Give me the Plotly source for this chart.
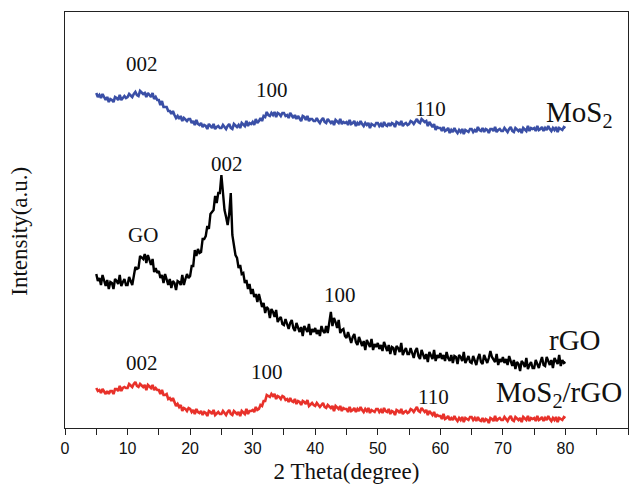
import numpy as np
import plotly.graph_objects as go

# 2-theta sampling (degrees), 0.25 degree steps from 5 to 80
two_theta = np.arange(5.0, 80.001, 0.25)

# Diffraction intensities (a.u., curves already vertically offset); one row per 5 degrees
mos2 = [
    335, 331, 333, 330, 334, 330, 328, 331, 326, 329, 328, 326, 331, 330, 328, 333, 328, 330, 332, 330,
    331, 334, 332, 331, 334, 336, 333, 332, 337, 335, 334, 335, 331, 335, 333, 331, 335, 329, 331, 328,
    328, 323, 327, 321, 321, 321, 317, 317, 314, 317, 313, 310, 312, 309, 312, 307, 310, 308, 307, 309,
    309, 305, 307, 303, 308, 304, 303, 305, 301, 303, 302, 299, 304, 302, 300, 304, 299, 301, 302, 300,
    300, 303, 301, 299, 302, 304, 300, 299, 304, 302, 301, 303, 300, 305, 303, 302, 307, 302, 305, 304,
    306, 303, 309, 305, 307, 310, 307, 312, 311, 316, 313, 312, 315, 313, 316, 311, 315, 314, 312, 315,
    315, 312, 313, 310, 315, 312, 310, 313, 309, 312, 310, 307, 312, 311, 308, 312, 307, 309, 309, 307,
    307, 310, 307, 305, 308, 310, 306, 305, 309, 307, 305, 307, 303, 308, 306, 305, 309, 304, 306, 305,
    306, 303, 308, 304, 305, 307, 302, 305, 303, 307, 304, 302, 305, 303, 305, 300, 304, 303, 302, 305,
    305, 302, 304, 301, 306, 303, 302, 305, 302, 305, 304, 301, 306, 305, 303, 307, 302, 304, 305, 303,
    304, 307, 306, 304, 307, 309, 306, 305, 309, 307, 306, 307, 302, 306, 303, 301, 304, 298, 301, 300,
    300, 297, 301, 297, 298, 300, 295, 298, 296, 300, 297, 295, 298, 296, 299, 294, 298, 297, 296, 299,
    299, 296, 298, 296, 301, 298, 297, 300, 296, 299, 298, 295, 299, 299, 297, 301, 296, 298, 299, 297,
    297, 300, 298, 296, 299, 301, 297, 296, 300, 298, 297, 299, 295, 300, 298, 297, 302, 297, 300, 299,
    300, 297, 302, 298, 299, 301, 297, 300, 298, 302, 299, 297, 300, 298, 301, 296, 300, 299, 298, 301,
    300,
]

rgo = [
    154, 147, 150, 143, 153, 146, 142, 148, 139, 146, 145, 139, 149, 147, 144, 153, 142, 146, 149, 143,
    143, 151, 147, 143, 152, 161, 159, 160, 172, 170, 169, 174, 165, 173, 168, 163, 169, 156, 160, 155,
    157, 150, 153, 145, 154, 147, 143, 149, 140, 147, 145, 138, 147, 146, 143, 153, 143, 149, 154, 150,
    152, 162, 162, 178, 172, 179, 175, 176, 189, 189, 192, 202, 199, 214, 216, 218, 232, 225, 235, 235,
    253, 234, 218, 211, 203, 214, 235, 193, 182, 173, 170, 160, 163, 154, 155, 145, 148, 139, 144, 134,
    139, 131, 134, 126, 134, 126, 121, 125, 115, 121, 119, 110, 119, 116, 111, 118, 106, 109, 111, 104,
    103, 109, 104, 99, 105, 108, 100, 97, 105, 100, 96, 101, 92, 102, 99, 96, 104, 93, 99, 96,
    100, 94, 98, 92, 102, 97, 95, 102, 95, 105, 116, 102, 110, 106, 100, 108, 95, 98, 99, 92,
    90, 96, 91, 85, 91, 94, 86, 83, 91, 86, 82, 87, 78, 88, 84, 81, 89, 78, 84, 81,
    85, 79, 83, 77, 86, 80, 77, 83, 74, 81, 80, 73, 82, 80, 76, 85, 73, 77, 80, 74,
    74, 80, 76, 70, 77, 80, 72, 69, 78, 73, 69, 74, 66, 76, 72, 69, 78, 67, 73, 70,
    75, 69, 73, 67, 76, 70, 67, 73, 65, 72, 71, 64, 73, 71, 67, 76, 65, 69, 72, 66,
    65, 72, 68, 63, 70, 74, 66, 64, 73, 68, 65, 70, 77, 71, 69, 66, 74, 63, 69, 66,
    71, 65, 69, 63, 72, 66, 62, 68, 59, 66, 64, 57, 67, 65, 61, 70, 59, 63, 66, 60,
    60, 68, 64, 60, 66, 71, 63, 62, 71, 66, 63, 68, 60, 70, 67, 64, 73, 62, 68, 65,
    66,
]

mos2_rgo = [
    40, 37, 38, 35, 39, 36, 34, 37, 34, 37, 37, 34, 39, 39, 37, 42, 37, 40, 41, 40,
    40, 44, 42, 41, 44, 46, 42, 41, 44, 42, 41, 43, 38, 43, 41, 40, 43, 38, 40, 38,
    38, 34, 38, 33, 33, 34, 29, 30, 27, 30, 26, 22, 24, 21, 23, 17, 20, 19, 17, 20,
    19, 16, 18, 14, 19, 16, 15, 17, 13, 16, 15, 12, 17, 16, 14, 18, 13, 15, 16, 14,
    14, 17, 15, 13, 16, 18, 14, 13, 17, 15, 14, 16, 12, 17, 15, 14, 19, 14, 17, 17,
    18, 16, 21, 18, 19, 23, 22, 27, 27, 33, 32, 31, 34, 32, 34, 29, 32, 31, 29, 32,
    31, 28, 29, 26, 30, 27, 26, 29, 24, 27, 26, 23, 27, 26, 24, 28, 22, 24, 25, 23,
    22, 25, 23, 21, 23, 25, 21, 20, 23, 21, 20, 22, 17, 22, 20, 19, 22, 17, 20, 19,
    19, 16, 21, 17, 18, 20, 16, 19, 17, 21, 18, 16, 19, 17, 20, 15, 18, 17, 16, 19,
    19, 16, 18, 15, 20, 17, 16, 19, 14, 17, 16, 13, 18, 17, 15, 19, 14, 16, 17, 15,
    16, 19, 18, 16, 19, 21, 17, 16, 20, 18, 16, 18, 13, 17, 15, 13, 16, 11, 13, 12,
    12, 9, 14, 9, 10, 12, 8, 10, 8, 12, 9, 7, 10, 8, 11, 6, 10, 9, 8, 11,
    11, 8, 10, 7, 11, 8, 7, 10, 6, 9, 8, 5, 10, 9, 7, 12, 7, 9, 10, 8,
    8, 11, 9, 7, 10, 12, 8, 7, 11, 9, 8, 10, 6, 11, 9, 8, 12, 7, 10, 9,
    10, 7, 12, 8, 9, 11, 7, 10, 8, 12, 9, 7, 10, 8, 11, 6, 10, 9, 8, 11,
    10,
]

series = [
    ("MoS2", mos2, "#3a4fa6", 2.6),
    ("rGO", rgo, "#000000", 2.4),
    ("MoS2/rGO", mos2_rgo, "#e8312a", 2.6),
]

# Peak / sample labels: (text, 2theta, intensity, size, anchor)
labels = [
    ("002", 12.3, 364, 21, "center"),
    ("100", 33.1, 338, 21, "center"),
    ("110", 58.4, 319, 21, "center"),
    ("MoS<sub>2</sub>", 76.5, 314, 29, "left"),
    ("GO", 12.5, 193, 21, "center"),
    ("002", 25.9, 264, 21, "center"),
    ("100", 44.0, 133, 21, "center"),
    ("rGO", 77.1, 88, 29, "left"),
    ("002", 12.3, 65, 21, "center"),
    ("100", 32.3, 56, 21, "center"),
    ("110", 58.9, 31, 21, "center"),
    ("MoS<sub>2</sub>/rGO", 68.5, 34, 29, "left"),
]

serif = "Times New Roman, Liberation Serif, serif"

fig = go.Figure()
for name, vals, color, width in series:
    fig.add_trace(go.Scatter(
        x=two_theta, y=vals, mode="lines", name=name,
        line=dict(color=color, width=width), showlegend=False,
    ))

for text, xv, yv, size, anchor in labels:
    fig.add_annotation(
        x=xv, y=yv, xref="x", yref="y", text=text, showarrow=False,
        xanchor=anchor, yanchor="middle",
        font=dict(family=serif, size=size, color="#111111"),
    )

# Vertical intensity title, placed slightly below the plot's mid-height
fig.add_annotation(
    x=-0.08, y=0.474, xref="paper", yref="paper", text="Intensity(a.u.)",
    textangle=-90, showarrow=False, xanchor="center", yanchor="middle",
    font=dict(family=serif, size=23, color="#111111"),
)

fig.update_layout(
    width=636, height=492,
    margin=dict(l=65, r=8, t=12, b=64),
    paper_bgcolor="white", plot_bgcolor="white",
    xaxis=dict(
        range=[0, 90], tickmode="linear", tick0=0, dtick=10,
        ticks="outside", ticklen=6, tickwidth=1.2, tickcolor="#222",
        minor=dict(tickmode="linear", tick0=0, dtick=5, ticks="outside",
                   ticklen=6, tickwidth=1.2, tickcolor="#222"),
        showline=True, linecolor="#222", linewidth=1.2, mirror=True,
        showgrid=False, zeroline=False,
        tickfont=dict(family="Liberation Sans, Arial, sans-serif", size=16, color="#111"),
        title=dict(text="2 Theta(degree)", font=dict(family=serif, size=23, color="#111"),
                   standoff=6),
    ),
    yaxis=dict(
        range=[0, 416], showticklabels=False, ticks="",
        showline=True, linecolor="#222", linewidth=1.2, mirror=True,
        showgrid=False, zeroline=False,
    ),
)

fig.write_html("out.html")
